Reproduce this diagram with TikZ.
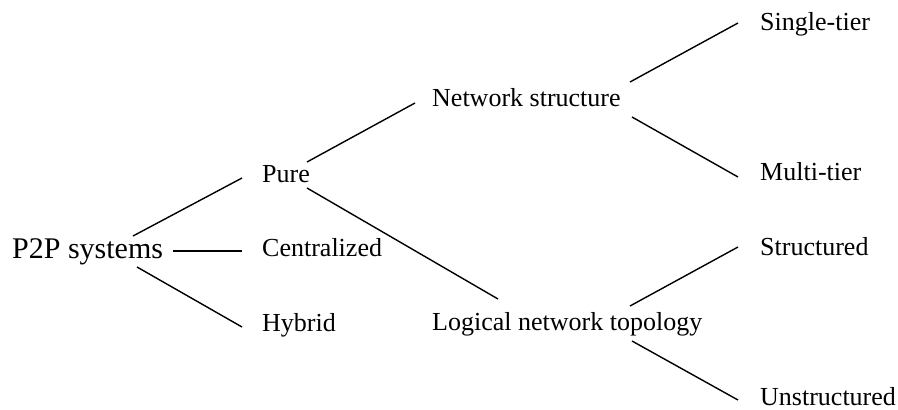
\documentclass[tikz,border=0pt]{standalone}
\usepackage{fontspec}
\setmainfont{Liberation Serif}
\usetikzlibrary{calc}
\begin{document}
\begin{tikzpicture}[x=1pt,y=-1pt,
  label/.style={inner sep=0pt,anchor=base west,font=\fontsize{26}{30}\selectfont},
  rootlabel/.style={label,font=\fontsize{30}{34}\selectfont},
  edge/.style={line width=1.4pt,black}]
\useasboundingbox (0,0) rectangle (898,410);

% taxonomy labels
\node[rootlabel] (p2p) at (12,258) {P2P systems};
\node[label] (pure) at (262,182) {Pure};
\node[label] (cent) at (262,256) {Centralized};
\node[label] (hyb) at (262,331) {Hybrid};
\node[label] (ns) at (432,106) {Network structure};
\node[label] (lnt) at (432,330) {Logical network topology};
\node[label] (single) at (760,30) {Single-tier};
\node[label] (multi) at (760,180) {Multi-tier};
\node[label] (struct) at (760,255) {Structured};
\node[label] (unstr) at (760,405) {Unstructured};

% branches
\draw[edge] ($(p2p.base west)+(121,-22)$) -- ($(pure.base west)+(-20,-4)$);
\draw[edge] ($(p2p.base west)+(161,-7)$) -- ($(cent.base west)+(-20,-5)$);
\draw[edge] ($(p2p.base west)+(125,9)$) -- ($(hyb.base west)+(-20,-4)$);
\draw[edge] ($(pure.base west)+(45,-20)$) -- ($(ns.base west)+(-17,-3)$);
\draw[edge] ($(pure.base west)+(45,6)$) -- ($(lnt.base west)+(66,-31)$);
\draw[edge] ($(ns.base west)+(198,-24)$) -- ($(single.base west)+(-22,-7)$);
\draw[edge] ($(ns.base west)+(200,11)$) -- ($(multi.base west)+(-22,-3)$);
\draw[edge] ($(lnt.base west)+(198,-24)$) -- ($(struct.base west)+(-22,-8)$);
\draw[edge] ($(lnt.base west)+(200,11)$) -- ($(unstr.base west)+(-22,-5)$);
\end{tikzpicture}
\end{document}
